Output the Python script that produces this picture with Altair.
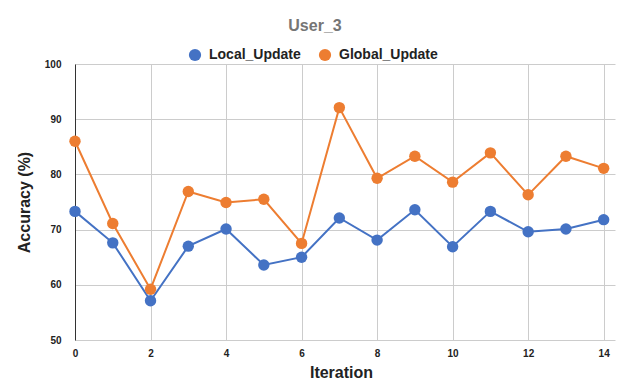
import altair as alt
import pandas as pd

iterations = list(range(15))
local_update = [73.3, 67.6, 57.1, 67.0, 70.1, 63.6, 65.0, 72.1, 68.1, 73.6, 66.9, 73.3, 69.6, 70.1, 71.8]
global_update = [86.0, 71.1, 59.2, 76.9, 74.9, 75.5, 67.5, 92.1, 79.3, 83.3, 78.6, 83.9, 76.3, 83.3, 81.1]
series = ["Local_Update", "Global_Update"]
colors = ["#4472C4", "#ED7D31"]
x_ticks = [0, 2, 4, 6, 8, 10, 12, 14]
y_ticks = [50, 60, 70, 80, 90, 100]

rows = []
for name, vals in zip(series, [local_update, global_update]):
    for i, v in zip(iterations, vals):
        rows.append({"Iteration": i, "Accuracy": v, "Series": name})
df = pd.DataFrame(rows)

x = alt.X("Iteration:Q",
          scale=alt.Scale(domain=[0, 14.3], nice=False, zero=False),
          axis=alt.Axis(values=x_ticks, title="Iteration", domain=False, ticks=False,
                        labelPadding=8, labelFont="Liberation Sans", labelFontWeight="bold",
                        labelFontSize=10, labelColor="#222", titleFont="Liberation Sans",
                        titleFontSize=16, titleFontWeight="bold", titleColor="#222",
                        titlePadding=6, titleX=266, gridColor="#cccccc", labelFlush=False))
y = alt.Y("Accuracy:Q",
          scale=alt.Scale(domain=[50, 100], nice=False, zero=False),
          axis=alt.Axis(values=y_ticks, title="Accuracy (%)", domain=True, domainColor="#333",
                        ticks=False, labelPadding=14, labelFont="Liberation Sans",
                        labelFontWeight="bold", labelFontSize=10, labelColor="#222",
                        titleFont="Liberation Sans", titleFontSize=16, titleFontWeight="bold",
                        titleColor="#222", titlePadding=12, gridColor="#cccccc"))
color = alt.Color("Series:N",
                  scale=alt.Scale(domain=series, range=colors),
                  sort=series,
                  legend=alt.Legend(title=None, orient="none", direction="horizontal",
                                    legendX=113, legendY=-16, symbolType="circle",
                                    symbolSize=150, symbolStrokeWidth=0, labelFont="Liberation Sans",
                                    labelFontSize=14, labelFontWeight="bold", labelColor="#222",
                                    columnPadding=17, labelOffset=7))

base = alt.Chart(df)
lines = base.mark_line(strokeWidth=2).encode(x=x, y=y, color=color)
points = base.mark_circle(size=130, opacity=1).encode(x=x, y=y, color=color)

chart = (lines + points).properties(
    width=540, height=276,
    title=alt.TitleParams("User_3", fontSize=16, fontWeight="bold", color="#757575",
                          font="Liberation Sans", anchor="middle", offset=14, dx=-30),
    autosize=alt.AutoSizeParams(type="none"),
    padding={"left": 67, "top": 56, "right": 12, "bottom": 41},
).configure_view(stroke=None)

chart.save("out.html", embed_options={"renderer": "svg", "actions": False})
